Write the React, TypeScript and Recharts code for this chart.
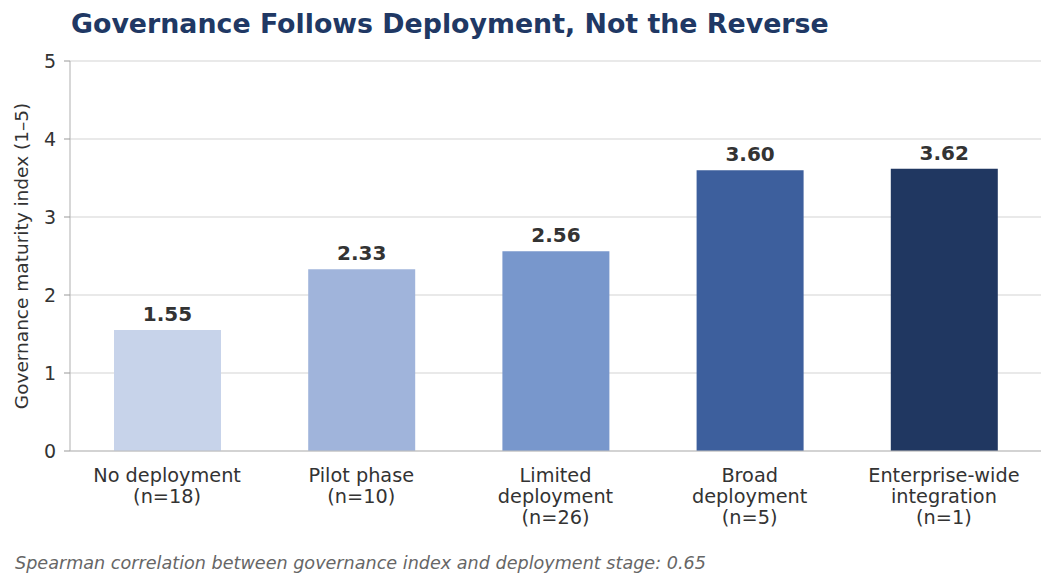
import React from "react";
import { BarChart, Bar, XAxis, YAxis, CartesianGrid, Cell, LabelList } from "recharts";

const categories = ["No deployment", "Pilot phase", "Limited deployment", "Broad deployment", "Enterprise-wide integration"];
const tickLines = [
  ["No deployment", "(n=18)"],
  ["Pilot phase", "(n=10)"],
  ["Limited", "deployment", "(n=26)"],
  ["Broad", "deployment", "(n=5)"],
  ["Enterprise-wide", "integration", "(n=1)"],
];
const values = [1.55, 2.33, 2.56, 3.6, 3.62];
const colors = ["#c7d3ea", "#a0b4db", "#7897cc", "#3d5f9d", "#203761"];
const yTicks = [0, 1, 2, 3, 4, 5];

const data = categories.map((c, i) => ({ name: c, value: values[i], idx: i }));

const FONT = "DejaVu Sans, sans-serif";

const XTick = (props: any) => {
  const { x, y, index } = props;
  const lines = tickLines[index] || [];
  return (
    <text x={x} y={y} textAnchor="middle" fontFamily={FONT} fontSize={19.3} fill="#333">
      {lines.map((l: string, i: number) => (
        <tspan key={i} x={x} dy={i === 0 ? 23 : 21}>{l}</tspan>
      ))}
    </text>
  );
};

export default function App() {
  return (
    <div style={{ position: "fixed", left: 0, top: 0, width: 1056, height: 587, background: "#fff", fontFamily: FONT }}>
      <div style={{ position: "absolute", left: 71, top: 8, fontSize: 26.8, lineHeight: "31px", fontWeight: "bold", color: "#203864", whiteSpace: "nowrap" }}>
        Governance Follows Deployment, Not the Reverse
      </div>
      <BarChart width={1056} height={587} data={data} margin={{ top: 61, right: 15, bottom: 0, left: 0 }}>
        <CartesianGrid horizontal={true} vertical={false} stroke="#d3d3d3" strokeWidth={1} />
        <XAxis
          dataKey="name"
          height={136}
          tickLine={false}
          axisLine={{ stroke: "#bdbdbd", strokeWidth: 1.2 }}
          tick={<XTick />}
          interval={0}
        />
        <YAxis
          width={70}
          domain={[0, 5]}
          ticks={yTicks}
          tickSize={6}
          tickMargin={8}
          tickLine={{ stroke: "#999" }}
          axisLine={{ stroke: "#bdbdbd", strokeWidth: 1.2 }}
          tick={{ fontFamily: FONT, fontSize: 19, fill: "#333" }}
          label={{
            value: "Governance maturity index (1–5)",
            angle: -90,
            position: "insideLeft",
            dx: 16,
            dy: 0,
            style: { textAnchor: "middle", fontFamily: FONT, fontSize: 18.5, fill: "#333" },
          }}
        />
        <Bar dataKey="value" barSize={107} isAnimationActive={false}>
          {data.map((d, i) => (
            <Cell key={i} fill={colors[i]} />
          ))}
          <LabelList
            dataKey="value"
            position="top"
            offset={9}
            formatter={(v: any) => Number(v).toFixed(2)}
            style={{ fontFamily: FONT, fontSize: 20, fontWeight: "bold", fill: "#333" }}
          />
        </Bar>
      </BarChart>
      <div style={{ position: "absolute", left: 15, top: 553, fontSize: 17.6, lineHeight: "20px", fontStyle: "italic", color: "#666", whiteSpace: "nowrap" }}>
        Spearman correlation between governance index and deployment stage: 0.65
      </div>
    </div>
  );
}
